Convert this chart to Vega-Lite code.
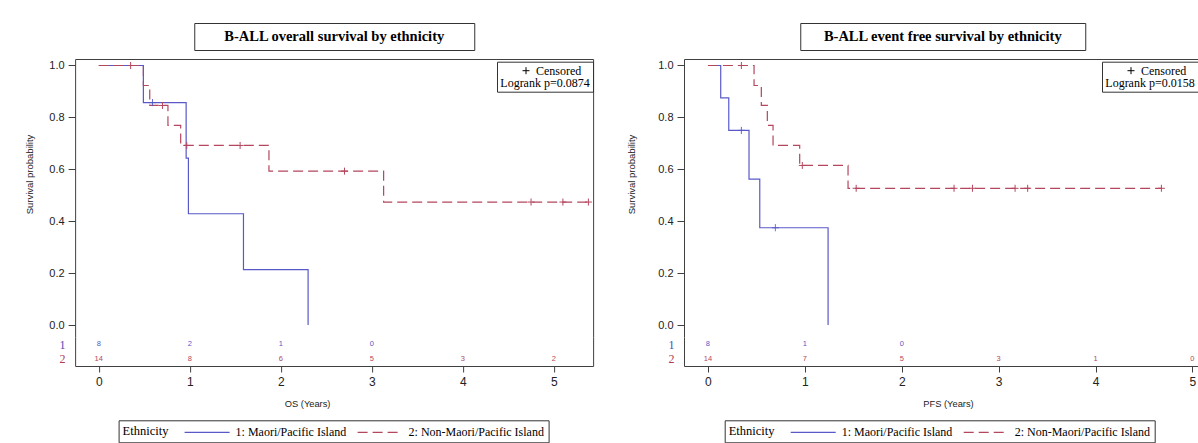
{
  "$schema": "https://vega.github.io/schema/vega-lite/v6.json",
  "padding": {"left": 24, "top": 22, "right": 0, "bottom": 0},
  "background": "white",
  "config": {
    "view": {"stroke": null},
    "font": "Liberation Sans",
    "axis": {"domainColor": "#404040", "tickColor": "#404040", "labelColor": "#222222", "titleColor": "#222222", "grid": false, "titleFontWeight": "normal", "labelFont": "Liberation Sans", "titleFont": "Liberation Sans"},
    "legend": {"labelFont": "Liberation Serif", "titleFont": "Liberation Serif", "labelColor": "black", "titleColor": "black", "titleFontWeight": "normal", "strokeColor": "#333333", "cornerRadius": 0}
  },
  "datasets": {
    "os_curve": [
      {"Ethnicity": "1: Maori/Pacific Island", "t": 0, "surv": 1},
      {"Ethnicity": "1: Maori/Pacific Island", "t": 0.49, "surv": 0.857},
      {"Ethnicity": "1: Maori/Pacific Island", "t": 0.96, "surv": 0.643},
      {"Ethnicity": "1: Maori/Pacific Island", "t": 0.985, "surv": 0.429},
      {"Ethnicity": "1: Maori/Pacific Island", "t": 1.59, "surv": 0.214},
      {"Ethnicity": "1: Maori/Pacific Island", "t": 2.3, "surv": 0},
      {"Ethnicity": "2: Non-Maori/Pacific Island", "t": 0, "surv": 1},
      {"Ethnicity": "2: Non-Maori/Pacific Island", "t": 0.49, "surv": 0.923},
      {"Ethnicity": "2: Non-Maori/Pacific Island", "t": 0.56, "surv": 0.846},
      {"Ethnicity": "2: Non-Maori/Pacific Island", "t": 0.76, "surv": 0.769},
      {"Ethnicity": "2: Non-Maori/Pacific Island", "t": 0.9, "surv": 0.692},
      {"Ethnicity": "2: Non-Maori/Pacific Island", "t": 1.87, "surv": 0.593},
      {"Ethnicity": "2: Non-Maori/Pacific Island", "t": 3.13, "surv": 0.474},
      {"Ethnicity": "2: Non-Maori/Pacific Island", "t": 5.38, "surv": 0.474}
    ],
    "os_cens": [
      {"Ethnicity": "1: Maori/Pacific Island", "t": 0.59, "surv": 0.857, "status": "Censored"},
      {"Ethnicity": "2: Non-Maori/Pacific Island", "t": 0.35, "surv": 1, "status": "Censored"},
      {"Ethnicity": "2: Non-Maori/Pacific Island", "t": 0.7, "surv": 0.846, "status": "Censored"},
      {"Ethnicity": "2: Non-Maori/Pacific Island", "t": 0.967, "surv": 0.692, "status": "Censored"},
      {"Ethnicity": "2: Non-Maori/Pacific Island", "t": 1.553, "surv": 0.692, "status": "Censored"},
      {"Ethnicity": "2: Non-Maori/Pacific Island", "t": 2.7, "surv": 0.593, "status": "Censored"},
      {"Ethnicity": "2: Non-Maori/Pacific Island", "t": 4.75, "surv": 0.474, "status": "Censored"},
      {"Ethnicity": "2: Non-Maori/Pacific Island", "t": 5.1, "surv": 0.474, "status": "Censored"},
      {"Ethnicity": "2: Non-Maori/Pacific Island", "t": 5.38, "surv": 0.474, "status": "Censored"}
    ],
    "os_risk": [
      {"row": "1", "t": 0, "n": 8}, {"row": "1", "t": 1, "n": 2}, {"row": "1", "t": 2, "n": 1}, {"row": "1", "t": 3, "n": 0},
      {"row": "2", "t": 0, "n": 14}, {"row": "2", "t": 1, "n": 8}, {"row": "2", "t": 2, "n": 6}, {"row": "2", "t": 3, "n": 5}, {"row": "2", "t": 4, "n": 3}, {"row": "2", "t": 5, "n": 2}
    ],
    "efs_curve": [
      {"Ethnicity": "1: Maori/Pacific Island", "t": 0, "surv": 1},
      {"Ethnicity": "1: Maori/Pacific Island", "t": 0.132, "surv": 0.875},
      {"Ethnicity": "1: Maori/Pacific Island", "t": 0.215, "surv": 0.75},
      {"Ethnicity": "1: Maori/Pacific Island", "t": 0.424, "surv": 0.5625},
      {"Ethnicity": "1: Maori/Pacific Island", "t": 0.535, "surv": 0.375},
      {"Ethnicity": "1: Maori/Pacific Island", "t": 1.24, "surv": 0},
      {"Ethnicity": "2: Non-Maori/Pacific Island", "t": 0, "surv": 1},
      {"Ethnicity": "2: Non-Maori/Pacific Island", "t": 0.476, "surv": 0.923},
      {"Ethnicity": "2: Non-Maori/Pacific Island", "t": 0.551, "surv": 0.846},
      {"Ethnicity": "2: Non-Maori/Pacific Island", "t": 0.613, "surv": 0.769},
      {"Ethnicity": "2: Non-Maori/Pacific Island", "t": 0.672, "surv": 0.692},
      {"Ethnicity": "2: Non-Maori/Pacific Island", "t": 0.947, "surv": 0.615},
      {"Ethnicity": "2: Non-Maori/Pacific Island", "t": 1.446, "surv": 0.527},
      {"Ethnicity": "2: Non-Maori/Pacific Island", "t": 4.68, "surv": 0.527}
    ],
    "efs_cens": [
      {"Ethnicity": "1: Maori/Pacific Island", "t": 0.345, "surv": 0.75, "status": "Censored"},
      {"Ethnicity": "1: Maori/Pacific Island", "t": 0.696, "surv": 0.375, "status": "Censored"},
      {"Ethnicity": "2: Non-Maori/Pacific Island", "t": 0.345, "surv": 1, "status": "Censored"},
      {"Ethnicity": "2: Non-Maori/Pacific Island", "t": 0.974, "surv": 0.615, "status": "Censored"},
      {"Ethnicity": "2: Non-Maori/Pacific Island", "t": 1.53, "surv": 0.527, "status": "Censored"},
      {"Ethnicity": "2: Non-Maori/Pacific Island", "t": 2.54, "surv": 0.527, "status": "Censored"},
      {"Ethnicity": "2: Non-Maori/Pacific Island", "t": 2.73, "surv": 0.527, "status": "Censored"},
      {"Ethnicity": "2: Non-Maori/Pacific Island", "t": 3.17, "surv": 0.527, "status": "Censored"},
      {"Ethnicity": "2: Non-Maori/Pacific Island", "t": 3.3, "surv": 0.527, "status": "Censored"},
      {"Ethnicity": "2: Non-Maori/Pacific Island", "t": 4.68, "surv": 0.527, "status": "Censored"}
    ],
    "efs_risk": [
      {"row": "1", "t": 0, "n": 8}, {"row": "1", "t": 1, "n": 1}, {"row": "1", "t": 2, "n": 0},
      {"row": "2", "t": 0, "n": 14}, {"row": "2", "t": 1, "n": 7}, {"row": "2", "t": 2, "n": 5}, {"row": "2", "t": 3, "n": 3}, {"row": "2", "t": 4, "n": 1}, {"row": "2", "t": 5, "n": 0}
    ]
  },
  "hconcat": [
    {
      "vconcat": [
        {
          "width": 280, "height": 27,
          "view": {"stroke": "#333333", "strokeWidth": 1},
          "data": {"values": [{"title": "B-ALL overall survival by ethnicity"}]},
          "mark": {"type": "text", "font": "Liberation Serif", "fontWeight": "bold", "fontSize": 14.5, "color": "black"},
          "encoding": {"text": {"field": "title", "type": "nominal"}}
        },
        {
          "vconcat": [
            {
              "width": 518, "height": 278,
              "layer": [
                {
                  "data": {"name": "os_curve"},
                  "mark": {"type": "line", "interpolate": "step-after", "strokeWidth": 1.2},
                  "encoding": {
                    "x": {"field": "t", "type": "quantitative", "scale": {"domain": [-0.26, 5.432], "nice": false, "zero": false}, "axis": null},
                    "y": {"field": "surv", "type": "quantitative", "scale": {"domain": [-0.0458, 1.025], "nice": false, "zero": false},
                          "axis": {"orient": "left", "values": [0, 0.2, 0.4, 0.6, 0.8, 1], "format": ".1f", "title": "Survival probability", "titleColor": "#222222", "titleFontSize": 9.5, "titleY": 115, "labelFontSize": 11, "tickSize": 7, "labelPadding": 4, "titlePadding": 14}},
                    "color": {"field": "Ethnicity", "type": "nominal", "scale": {"domain": ["1: Maori/Pacific Island", "2: Non-Maori/Pacific Island"], "range": ["#5858c8", "#b4465e"]},
                              "legend": {"title": "Ethnicity", "orient": "none", "legendX": 43.6, "legendY": 397.3, "direction": "horizontal", "titleOrient": "left", "titleFontSize": 12.5, "titlePadding": 15, "titleBaseline": "middle", "labelFontSize": 12, "labelOffset": 36, "columnPadding": 8, "symbolType": "M-1,0L5.43,0", "symbolSize": 196, "symbolStrokeWidth": 1.2, "padding": 4}},
                    "strokeDash": {"field": "Ethnicity", "type": "nominal", "scale": {"domain": ["1: Maori/Pacific Island", "2: Non-Maori/Pacific Island"], "range": [[1, 0], [10, 5]]},
                              "legend": {"title": "Ethnicity", "orient": "none", "legendX": 43.6, "legendY": 397.3, "direction": "horizontal", "titleOrient": "left", "titleFontSize": 12.5, "titlePadding": 15, "titleBaseline": "middle", "labelFontSize": 12, "labelOffset": 36, "columnPadding": 8, "symbolType": "M-1,0L5.43,0", "symbolSize": 196, "symbolStrokeWidth": 1.2, "padding": 4}}
                  }
                },
                {
                  "data": {"name": "os_cens"},
                  "mark": {"type": "point", "filled": false, "strokeWidth": 1, "size": 49, "opacity": 1},
                  "encoding": {
                    "x": {"field": "t", "type": "quantitative", "scale": {"domain": [-0.26, 5.432], "nice": false, "zero": false}, "axis": {"orient": "top", "labels": false, "ticks": false, "title": null}},
                    "y": {"field": "surv", "type": "quantitative", "scale": {"domain": [-0.0458, 1.025], "nice": false, "zero": false}, "axis": {"orient": "right", "labels": false, "ticks": false, "title": null}},
                    "color": {"field": "Ethnicity", "type": "nominal", "scale": {"domain": ["1: Maori/Pacific Island", "2: Non-Maori/Pacific Island"], "range": ["#5858c8", "#b4465e"]}, "legend": null},
                    "strokeDash": {"field": "Ethnicity", "type": "nominal", "scale": {"domain": ["1: Maori/Pacific Island", "2: Non-Maori/Pacific Island"], "range": [[1, 0], [10, 5]]}, "legend": null},
                    "shape": {"field": "status", "type": "nominal", "scale": {"domain": ["Censored"], "range": ["M-1,0L1,0M0,-1L0,1"]},
                              "legend": {"title": "Logrank p=0.0874", "orient": "none", "legendX": 422, "legendY": 38.7, "titleOrient": "bottom", "titleAnchor": "middle", "titleFontSize": 12, "titlePadding": 1, "labelFontSize": 12, "labelOffset": 4, "symbolSize": 49, "symbolStrokeColor": "black", "symbolFillColor": "transparent", "symbolStrokeWidth": 1, "symbolOffset": 12, "padding": 3}}
                  }
                }
              ],
              "resolve": {"axis": {"x": "independent", "y": "independent"}}
            },
            {
              "width": 518, "height": 29,
              "layer": [
                {
                  "data": {"name": "os_risk"},
                  "transform": [{"filter": "datum.row == '1'"}],
                  "mark": {"type": "text", "fontSize": 7.5, "color": "#5858c8"},
                  "encoding": {
                    "x": {"field": "t", "type": "quantitative", "scale": {"domain": [-0.26, 5.432], "nice": false, "zero": false},
                          "axis": {"orient": "bottom", "values": [0, 1, 2, 3, 4, 5], "format": "d", "title": "OS (Years)", "titleFontSize": 9.3, "titleX": 232, "labelFontSize": 12, "tickSize": 6, "labelPadding": 4, "titlePadding": 12}},
                    "y": {"field": "row", "type": "nominal", "scale": {"domain": ["1", "2"]},
                          "axis": {"orient": "left", "ticks": false, "labelPadding": 10, "labelFont": "Liberation Serif", "labelFontSize": 12, "labelColor": {"condition": {"test": "datum.value == '1'", "value": "#4a4ab5"}, "value": "#b03a55"}, "title": null}},
                    "text": {"field": "n", "type": "quantitative"}
                  }
                },
                {
                  "data": {"name": "os_risk"},
                  "transform": [{"filter": "datum.row == '2'"}],
                  "mark": {"type": "text", "fontSize": 7.5, "color": "#b4465e"},
                  "encoding": {
                    "x": {"field": "t", "type": "quantitative", "scale": {"domain": [-0.26, 5.432], "nice": false, "zero": false}, "axis": null},
                    "y": {"field": "row", "type": "nominal", "scale": {"domain": ["1", "2"]}, "axis": {"orient": "right", "labels": false, "ticks": false, "title": null}},
                    "text": {"field": "n", "type": "quantitative"}
                  }
                }
              ],
              "resolve": {"axis": {"x": "independent", "y": "independent"}}
            }
          ],
          "spacing": 0,
          "resolve": {"scale": {"x": "independent", "y": "independent", "color": "shared", "strokeDash": "shared", "shape": "shared"}}
        }
      ],
      "spacing": 8,
      "center": true,
      "resolve": {"scale": {"color": "shared", "strokeDash": "shared", "shape": "shared"}}
    },
    {
      "vconcat": [
        {
          "width": 285, "height": 27,
          "view": {"stroke": "#333333", "strokeWidth": 1},
          "data": {"values": [{"title": "B-ALL event free survival by ethnicity"}]},
          "mark": {"type": "text", "font": "Liberation Serif", "fontWeight": "bold", "fontSize": 14.5, "color": "black"},
          "encoding": {"text": {"field": "title", "type": "nominal"}}
        },
        {
          "vconcat": [
            {
              "width": 518, "height": 278,
              "layer": [
                {
                  "data": {"name": "efs_curve"},
                  "mark": {"type": "line", "interpolate": "step-after", "strokeWidth": 1.2},
                  "encoding": {
                    "x": {"field": "t", "type": "quantitative", "scale": {"domain": [-0.247, 5.099], "nice": false, "zero": false}, "axis": null},
                    "y": {"field": "surv", "type": "quantitative", "scale": {"domain": [-0.0458, 1.025], "nice": false, "zero": false},
                          "axis": {"orient": "left", "values": [0, 0.2, 0.4, 0.6, 0.8, 1], "format": ".1f", "title": "Survival probability", "titleColor": "#222222", "titleFontSize": 9.5, "titleY": 115, "labelFontSize": 11, "tickSize": 7, "labelPadding": 4, "titlePadding": 21}},
                    "color": {"field": "Ethnicity", "type": "nominal", "scale": {"domain": ["1: Maori/Pacific Island", "2: Non-Maori/Pacific Island"], "range": ["#5858c8", "#b4465e"]},
                              "legend": {"title": "Ethnicity", "orient": "none", "legendX": 40.7, "legendY": 397.3, "direction": "horizontal", "titleOrient": "left", "titleFontSize": 12.5, "titlePadding": 15, "titleBaseline": "middle", "labelFontSize": 12, "labelOffset": 36, "columnPadding": 8, "symbolType": "M-1,0L5.43,0", "symbolSize": 196, "symbolStrokeWidth": 1.2, "padding": 4}},
                    "strokeDash": {"field": "Ethnicity", "type": "nominal", "scale": {"domain": ["1: Maori/Pacific Island", "2: Non-Maori/Pacific Island"], "range": [[1, 0], [10, 5]]},
                              "legend": {"title": "Ethnicity", "orient": "none", "legendX": 40.7, "legendY": 397.3, "direction": "horizontal", "titleOrient": "left", "titleFontSize": 12.5, "titlePadding": 15, "titleBaseline": "middle", "labelFontSize": 12, "labelOffset": 36, "columnPadding": 8, "symbolType": "M-1,0L5.43,0", "symbolSize": 196, "symbolStrokeWidth": 1.2, "padding": 4}}
                  }
                },
                {
                  "data": {"name": "efs_cens"},
                  "mark": {"type": "point", "filled": false, "strokeWidth": 1, "size": 49, "opacity": 1},
                  "encoding": {
                    "x": {"field": "t", "type": "quantitative", "scale": {"domain": [-0.247, 5.099], "nice": false, "zero": false}, "axis": {"orient": "top", "labels": false, "ticks": false, "title": null}},
                    "y": {"field": "surv", "type": "quantitative", "scale": {"domain": [-0.0458, 1.025], "nice": false, "zero": false}, "axis": {"orient": "right", "labels": false, "ticks": false, "title": null}},
                    "color": {"field": "Ethnicity", "type": "nominal", "scale": {"domain": ["1: Maori/Pacific Island", "2: Non-Maori/Pacific Island"], "range": ["#5858c8", "#b4465e"]}, "legend": null},
                    "strokeDash": {"field": "Ethnicity", "type": "nominal", "scale": {"domain": ["1: Maori/Pacific Island", "2: Non-Maori/Pacific Island"], "range": [[1, 0], [10, 5]]}, "legend": null},
                    "shape": {"field": "status", "type": "nominal", "scale": {"domain": ["Censored"], "range": ["M-1,0L1,0M0,-1L0,1"]},
                              "legend": {"title": "Logrank p=0.0158", "orient": "none", "legendX": 418, "legendY": 38.7, "titleOrient": "bottom", "titleAnchor": "middle", "titleFontSize": 12, "titlePadding": 1, "labelFontSize": 12, "labelOffset": 4, "symbolSize": 49, "symbolStrokeColor": "black", "symbolFillColor": "transparent", "symbolStrokeWidth": 1, "symbolOffset": 12, "padding": 3}}
                  }
                }
              ],
              "resolve": {"axis": {"x": "independent", "y": "independent"}}
            },
            {
              "width": 518, "height": 29,
              "layer": [
                {
                  "data": {"name": "efs_risk"},
                  "transform": [{"filter": "datum.row == '1'"}],
                  "mark": {"type": "text", "fontSize": 7.5, "color": "#5858c8"},
                  "encoding": {
                    "x": {"field": "t", "type": "quantitative", "scale": {"domain": [-0.247, 5.099], "nice": false, "zero": false},
                          "axis": {"orient": "bottom", "values": [0, 1, 2, 3, 4, 5], "format": "d", "title": "PFS (Years)", "titleFontSize": 9.3, "titleX": 264, "labelFontSize": 12, "tickSize": 6, "labelPadding": 4, "titlePadding": 12}},
                    "y": {"field": "row", "type": "nominal", "scale": {"domain": ["1", "2"]},
                          "axis": {"orient": "left", "ticks": false, "labelPadding": 10, "labelFont": "Liberation Serif", "labelFontSize": 12, "labelColor": {"condition": {"test": "datum.value == '1'", "value": "#4a4ab5"}, "value": "#b03a55"}, "title": null}},
                    "text": {"field": "n", "type": "quantitative"}
                  }
                },
                {
                  "data": {"name": "efs_risk"},
                  "transform": [{"filter": "datum.row == '2'"}],
                  "mark": {"type": "text", "fontSize": 7.5, "color": "#b4465e"},
                  "encoding": {
                    "x": {"field": "t", "type": "quantitative", "scale": {"domain": [-0.247, 5.099], "nice": false, "zero": false}, "axis": null},
                    "y": {"field": "row", "type": "nominal", "scale": {"domain": ["1", "2"]}, "axis": {"orient": "right", "labels": false, "ticks": false, "title": null}},
                    "text": {"field": "n", "type": "quantitative"}
                  }
                }
              ],
              "resolve": {"axis": {"x": "independent", "y": "independent"}}
            }
          ],
          "spacing": 0,
          "resolve": {"scale": {"x": "independent", "y": "independent", "color": "shared", "strokeDash": "shared", "shape": "shared"}}
        }
      ],
      "spacing": 8,
      "center": true,
      "resolve": {"scale": {"color": "shared", "strokeDash": "shared", "shape": "shared"}}
    }
  ],
  "spacing": 32,
  "resolve": {"scale": {"x": "independent", "y": "independent", "color": "independent", "strokeDash": "independent", "shape": "independent"}}
}
